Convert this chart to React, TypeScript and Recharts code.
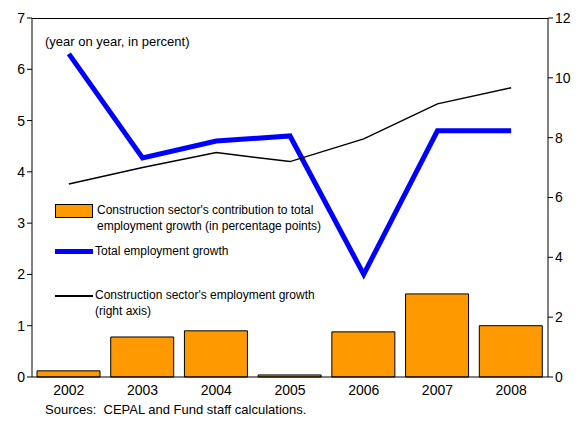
import React from "react"
import { ComposedChart, Bar, Line, XAxis, YAxis } from "recharts"

const years = ["2002", "2003", "2004", "2005", "2006", "2007", "2008"]
const contribution = [0.12, 0.78, 0.9, 0.04, 0.88, 1.62, 1.0]
const totalGrowth = [6.3, 4.27, 4.6, 4.7, 2.0, 4.8, 4.8]
const constructionGrowth = [6.45, 7.0, 7.5, 7.2, 7.96, 9.13, 9.67]
const leftTicks = [0, 1, 2, 3, 4, 5, 6, 7]
const rightTicks = [0, 2, 4, 6, 8, 10, 12]

const data = years.map((y, i) => ({
  year: y,
  contribution: contribution[i],
  total: totalGrowth[i],
  construction: constructionGrowth[i],
}))

const font = "Arial, 'Liberation Sans', sans-serif"

export default function App() {
  return (
    <div style={{ position: "relative", width: 584, height: 434, margin: -8, fontFamily: font, background: "#fff" }}>
      <ComposedChart width={584} height={410} data={data} margin={{ top: 18, right: 0, bottom: 0, left: 0 }}>
        <XAxis dataKey="year" stroke="#000" tick={{ fill: "#000", fontSize: 14 }} tickLine={false} height={33} />
        <YAxis yAxisId="l" domain={[0, 7]} ticks={leftTicks} stroke="#000" tick={{ fill: "#000", fontSize: 14 }} width={32} tickSize={5} />
        <YAxis yAxisId="r" orientation="right" domain={[0, 12]} ticks={rightTicks} stroke="#000" tick={{ fill: "#000", fontSize: 14 }} width={36} tickSize={5} />
        <Bar yAxisId="l" dataKey="contribution" fill="#FF9900" stroke="#000" strokeWidth={1} barSize={63} isAnimationActive={false} />
        <Line yAxisId="l" dataKey="total" stroke="#0000FF" strokeWidth={5} dot={false} isAnimationActive={false} />
        <Line yAxisId="r" dataKey="construction" stroke="#000" strokeWidth={1.5} dot={false} isAnimationActive={false} />
      </ComposedChart>
      <div style={{ position: "absolute", left: 32, top: 18, width: 516, height: 359, borderTop: "1px solid #000", boxSizing: "border-box", pointerEvents: "none" }} />
      <div style={{ position: "absolute", left: 45, top: 34, fontSize: 13 }}>(year on year, in percent)</div>
      <div style={{ position: "absolute", left: 55, top: 202, fontSize: 12, lineHeight: "16px" }}>
        <span style={{ display: "inline-block", width: 36, height: 12, background: "#FF9900", border: "1px solid #000", verticalAlign: "top", marginTop: 2, marginRight: 4 }} />
        <span style={{ display: "inline-block", verticalAlign: "top" }}>Construction sector's contribution to total<br />employment growth (in percentage points)</span>
      </div>
      <div style={{ position: "absolute", left: 55, top: 244, fontSize: 12, display: "flex", alignItems: "center" }}>
        <span style={{ display: "inline-block", width: 38, height: 5, background: "#0000FF", marginRight: 2 }} />Total employment growth
      </div>
      <div style={{ position: "absolute", left: 55, top: 287, fontSize: 12, lineHeight: "16px" }}>
        <span style={{ display: "inline-block", width: 38, height: 1.5, background: "#000", verticalAlign: "top", marginTop: 8, marginRight: 2 }} />
        <span style={{ display: "inline-block", verticalAlign: "top" }}>Construction sector's employment growth<br />(right axis)</span>
      </div>
      <div style={{ position: "absolute", left: 45, top: 402, fontSize: 13 }}>Sources:&nbsp; CEPAL and Fund staff calculations.</div>
    </div>
  )
}
